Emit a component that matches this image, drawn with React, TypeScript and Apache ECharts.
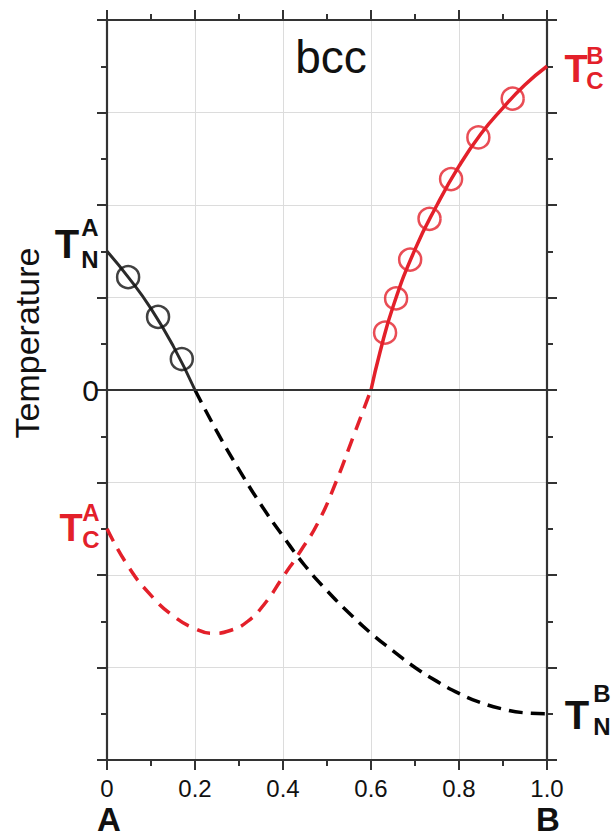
import React, { useEffect, useRef } from "react";
import * as echarts from "echarts";

// ---- data ----
const blackSolidX = [0, 0.05, 0.1, 0.15, 0.2];
const blackSolidY = [1.5, 1.21, 0.88, 0.48, 0];

const blackDashX = [0.2, 0.25, 0.3, 0.35, 0.4, 0.45, 0.5, 0.55, 0.6, 0.65, 0.7, 0.75, 0.8, 0.85, 0.9, 0.95, 1.0];
const blackDashY = [0, -0.45, -0.86, -1.24, -1.58, -1.9, -2.17, -2.41, -2.63, -2.82, -3.0, -3.15, -3.28, -3.38, -3.45, -3.49, -3.5];

const redDashX = [0, 0.05, 0.1, 0.15, 0.2, 0.24, 0.28, 0.32, 0.36, 0.4, 0.44, 0.48, 0.52, 0.56, 0.6];
const redDashY = [-1.5, -1.92, -2.22, -2.44, -2.58, -2.63, -2.6, -2.5, -2.3, -2.02, -1.74, -1.43, -1.0, -0.5, 0];

const redSolidX = [0.6, 0.62, 0.65, 0.7, 0.75, 0.8, 0.85, 0.9, 0.95, 1.0];
const redSolidY = [0, 0.4, 0.9, 1.52, 2.0, 2.42, 2.77, 3.05, 3.3, 3.5];

const blackPtsX = [0.048, 0.116, 0.17];
const blackPtsY = [1.22, 0.79, 0.335];

const redPtsX = [0.632, 0.657, 0.689, 0.733, 0.782, 0.844, 0.922];
const redPtsY = [0.62, 0.99, 1.41, 1.85, 2.28, 2.73, 3.15];

const xTickLabels: Record<string, string> = { "0": "0", "0.2": "0.2", "0.4": "0.4", "0.6": "0.6", "0.8": "0.8", "1": "1.0" };
const yTickLabels: Record<string, string> = { "0": "0" };

const zip = (xs: number[], ys: number[]) => xs.map((x, i) => [x, ys[i]]);

const FONT = '"Liberation Sans", Arial, sans-serif';
const RED = "#e3202a";
const AXIS = "#333";

function App() {
  const ref = useRef<HTMLDivElement>(null);
  useEffect(() => {
    if (!ref.current) return;
    const chart = echarts.init(ref.current, undefined, { renderer: "svg" });
    const tick = { show: true, inside: false, length: 10, lineStyle: { color: AXIS, width: 2 } };
    const minor = { show: true, splitNumber: 2, length: 6, lineStyle: { color: AXIS, width: 2 } };
    const line = { show: true, onZero: false, lineStyle: { color: AXIS, width: 2.2 } };
    const txt = (text: string, x: number, y: number, size: number, color: string, bold = true) => ({
      type: "text",
      x,
      y,
      silent: true,
      style: {
        text,
        fill: color,
        fontSize: size,
        lineHeight: size,
        fontWeight: bold ? "bold" : "normal",
        fontFamily: FONT,
        align: "center",
        verticalAlign: "middle",
      },
    });
    chart.setOption({
      animation: false,
      backgroundColor: "#fff",
      grid: { left: 107, right: 65, top: 20, bottom: 77, containLabel: false },
      xAxis: [
        {
          type: "value",
          min: 0,
          max: 1,
          interval: 0.2,
          position: "bottom",
          axisLine: line,
          axisTick: tick,
          minorTick: minor,
          splitLine: { show: true, lineStyle: { color: "#dcdcdc", width: 1 } },
          axisLabel: {
            show: true,
            fontSize: 24,
            color: "#111",
            fontFamily: FONT,
            margin: 16,
            formatter: (v: number) => xTickLabels[String(Math.round(v * 10) / 10)] ?? "",
          },
        },
        {
          type: "value",
          min: 0,
          max: 1,
          interval: 0.2,
          position: "top",
          axisLine: line,
          axisTick: tick,
          minorTick: minor,
          splitLine: { show: false },
          axisLabel: { show: false },
        },
      ],
      yAxis: [
        {
          type: "value",
          min: -4,
          max: 4,
          interval: 1,
          position: "left",
          axisLine: line,
          axisTick: tick,
          minorTick: minor,
          splitLine: { show: true, lineStyle: { color: "#dcdcdc", width: 1 } },
          axisLabel: {
            show: true,
            fontSize: 30,
            color: "#111",
            fontFamily: FONT,
            margin: 8,
            formatter: (v: number) => yTickLabels[String(v)] ?? "",
          },
        },
        {
          type: "value",
          min: -4,
          max: 4,
          interval: 1,
          position: "right",
          axisLine: line,
          axisTick: tick,
          minorTick: minor,
          splitLine: { show: false },
          axisLabel: { show: false },
        },
      ],
      series: [
        {
          type: "line",
          data: zip(blackSolidX, blackSolidY),
          smooth: true,
          symbol: "none",
          lineStyle: { color: "#2a2a2a", width: 3 },
          markLine: {
            silent: true,
            symbol: "none",
            label: { show: false },
            lineStyle: { color: AXIS, width: 2.2, type: "solid" },
            data: [{ yAxis: 0 }],
          },
          z: 3,
        },
        {
          type: "line",
          data: zip(blackDashX, blackDashY),
          smooth: true,
          symbol: "none",
          lineStyle: { color: "#000", width: 3.5, type: [14, 8] },
          z: 3,
        },
        {
          type: "line",
          data: zip(redDashX, redDashY),
          smooth: true,
          symbol: "none",
          lineStyle: { color: RED, width: 3.5, type: [14, 9] },
          z: 3,
        },
        {
          type: "line",
          data: zip(redSolidX, redSolidY),
          smooth: true,
          symbol: "none",
          lineStyle: { color: RED, width: 3.5 },
          z: 3,
        },
        {
          type: "scatter",
          data: zip(blackPtsX, blackPtsY),
          symbol: "circle",
          symbolSize: 22,
          itemStyle: { color: "rgba(0,0,0,0)", borderColor: "#111", borderWidth: 2.5 },
          z: 4,
        },
        {
          type: "scatter",
          data: zip(redPtsX, redPtsY),
          symbol: "circle",
          symbolSize: 22,
          itemStyle: { color: "rgba(0,0,0,0)", borderColor: RED, borderWidth: 2.5 },
          z: 4,
        },
      ],
      graphic: [
        txt("bcc", 331, 57, 46, "#111", false),
        {
          type: "text",
          x: 27,
          y: 343,
          rotation: Math.PI / 2,
          silent: true,
          style: {
            text: "Temperature",
            fill: "#111",
            fontSize: 34,
            fontFamily: FONT,
            align: "center",
            verticalAlign: "middle",
          },
        },
        txt("T", 67, 244, 40, "#111"),
        txt("A", 90, 227, 24, "#111"),
        txt("N", 90, 259, 24, "#111"),
        txt("T", 576, 69, 38, RED),
        txt("B", 595, 55, 24, RED),
        txt("C", 595, 80, 24, RED),
        txt("T", 71, 528, 38, RED),
        txt("A", 91, 512, 24, RED),
        txt("C", 91, 539, 24, RED),
        txt("T", 577, 715, 40, "#111"),
        txt("B", 602, 693, 24, "#111"),
        txt("N", 602, 726, 24, "#111"),
        txt("A", 109, 819, 33, "#111"),
        txt("B", 548, 819, 33, "#111"),
      ],
    });
    return () => chart.dispose();
  }, []);
  return <div ref={ref} style={{ position: "fixed", left: 0, top: 0, width: 612, height: 837 }} />;
}

export default App;
